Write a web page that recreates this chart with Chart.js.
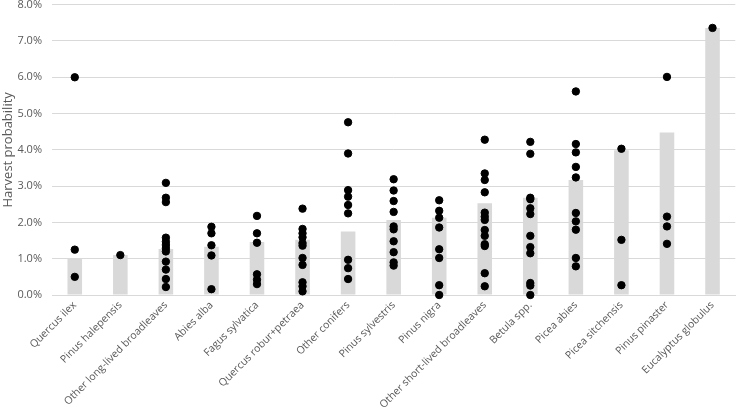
<!DOCTYPE html>
<html>
<head>
<meta charset="utf-8">
<script src="https://cdn.jsdelivr.net/npm/chart.js@4"></script>
<style>
  html, body { margin: 0; padding: 0; background: #fff; }
  #wrap { width: 740px; height: 415px; }
</style>
</head>
<body>
<div id="wrap"><canvas id="harvestChart"></canvas></div>
<script>
// Species on the x axis
const species = ['Quercus ilex', 'Pinus halepensis', 'Other long-lived broadleaves', 'Abies alba',
  'Fagus sylvatica', 'Quercus robur+petraea', 'Other conifers', 'Pinus sylvestris', 'Pinus nigra',
  'Other short-lived broadleaves', 'Betula spp.', 'Picea abies', 'Picea sitchensis', 'Pinus pinaster',
  'Eucalyptus globulus'];

// Mean harvest probability (%) - grey bars
const meanValues = [1.0, 1.1, 1.27, 1.33, 1.46, 1.52, 1.75, 2.07, 2.13, 2.53, 2.68, 3.17, 3.99, 4.48, 7.36];

// Individual values (%) per species - black dots
const quercusIlex = [6.0, 1.25, 0.5];
const pinusHalepensis = [1.1];
const otherLongLived = [3.09, 2.68, 2.56, 1.58, 1.47, 1.38, 1.29, 1.2, 0.92, 0.7, 0.44, 0.22];
const abiesAlba = [1.88, 1.7, 1.37, 1.09, 0.16];
const fagusSylvatica = [2.18, 1.7, 1.44, 0.57, 0.42, 0.3];
const quercusRobur = [2.38, 1.82, 1.7, 1.59, 1.43, 1.36, 1.02, 0.83, 0.35, 0.24, 0.1];
const otherConifers = [4.76, 3.9, 2.89, 2.71, 2.48, 2.25, 0.97, 0.74, 0.44];
const pinusSylvestris = [3.19, 2.88, 2.59, 2.29, 1.89, 1.81, 1.48, 1.18, 0.9, 0.81];
const pinusNigra = [2.61, 2.32, 2.13, 1.86, 1.26, 1.02, 0.27, 0.0];
const otherShortLived = [4.28, 3.35, 3.17, 2.83, 2.27, 2.16, 2.07, 1.79, 1.63, 1.4, 1.35, 0.6, 0.24];
const betula = [4.22, 3.89, 2.68, 2.64, 2.39, 2.23, 1.63, 1.32, 1.15, 0.33, 0.26, 0.0];
const piceaAbies = [5.61, 4.16, 3.93, 3.53, 3.24, 2.26, 2.03, 1.8, 1.02, 0.79];
const piceaSitchensis = [4.03, 1.52, 0.27];
const pinusPinaster = [6.01, 2.16, 1.89, 1.41];
const eucalyptus = [7.36];

const pointSets = [quercusIlex, pinusHalepensis, otherLongLived, abiesAlba, fagusSylvatica, quercusRobur,
  otherConifers, pinusSylvestris, pinusNigra, otherShortLived, betula, piceaAbies, piceaSitchensis,
  pinusPinaster, eucalyptus];

// y axis ticks
const yTicks = [0, 1, 2, 3, 4, 5, 6, 7, 8];

const points = [];
pointSets.forEach((vals, i) => {
    vals.forEach(v => points.push({ x: species[i], y: v }));
});

const fontFamily = "'Open Sans', 'Liberation Sans', sans-serif";

const ctx = document.getElementById('harvestChart').getContext('2d');
const harvestChart = new Chart(ctx, {
    type: 'bar',
    data: {
        labels: species,
        datasets: [{
            type: 'scatter',
            label: 'Values',
            data: points,
            backgroundColor: '#000',
            borderColor: '#000',
            pointRadius: 3.7,
            pointHoverRadius: 3.7,
            clip: false,
            order: 1
        }, {
            type: 'bar',
            label: 'Mean',
            data: meanValues,
            backgroundColor: '#d9d9d9',
            barPercentage: 0.64,
            categoryPercentage: 0.5,
            order: 2
        }]
    },
    options: {
        responsive: true,
        maintainAspectRatio: false,
        animation: false,
        plugins: {
            legend: { display: false },
            tooltip: { enabled: false }
        },
        scales: {
            x: {
                type: 'category',
                offset: true,
                grid: { display: false, drawTicks: false },
                border: { display: true, color: '#d9d9d9', width: 1 },
                ticks: {
                    color: '#595959',
                    font: { family: fontFamily, size: 10.5 },
                    minRotation: 45,
                    maxRotation: 45,
                    autoSkip: false,
                    padding: 4
                },
                afterFit: scale => { scale.height = 120; }
            },
            y: {
                min: 0,
                max: 8,
                afterBuildTicks: scale => { scale.ticks = yTicks.map(v => ({ value: v })); },
                grid: { color: '#d9d9d9', drawTicks: false },
                border: { display: false },
                ticks: {
                    color: '#595959',
                    font: { family: fontFamily, size: 11 },
                    padding: 10,
                    callback: v => v.toFixed(1) + '%'
                },
                title: {
                    display: true,
                    text: 'Harvest probability',
                    color: '#595959',
                    font: { family: fontFamily, size: 13 },
                    padding: { top: 0, bottom: 0 }
                },
                afterFit: scale => {
                    scale.width = 52;
                    scale.paddingTop = 4;
                    scale.paddingBottom = 0;
                }
            }
        }
    }
});
</script>
</body>
</html>
